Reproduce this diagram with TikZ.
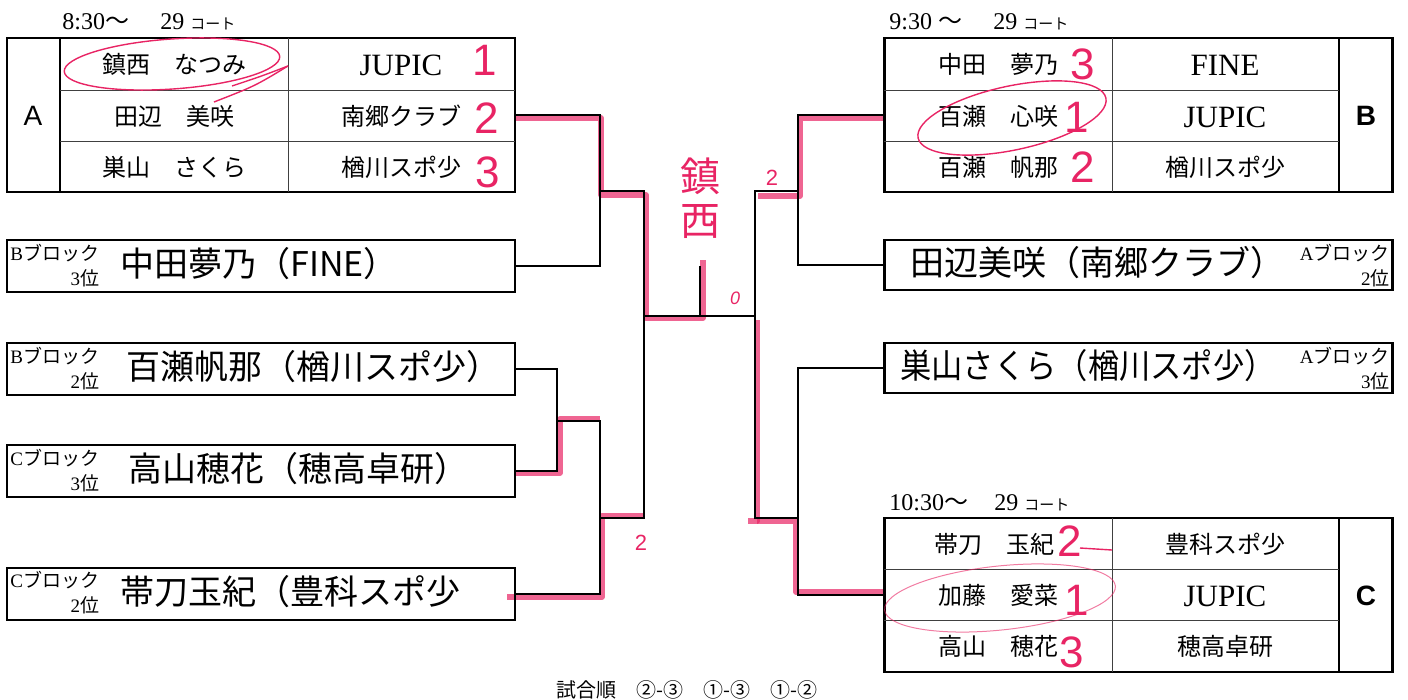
\documentclass[tikz,border=0pt]{standalone}
\usepackage{fontspec}
\setmainfont{Liberation Serif}
\newfontfamily\cjk{Noto Sans CJK JP}
\newfontfamily\gothic{Liberation Sans}
\usetikzlibrary{calc}
\definecolor{pen}{RGB}{232,36,100}
\def\court{{\cjk\fontsize{7.5}{7.5}\selectfont コート}}
\def\lat#1{{\rmfamily #1}}

\tikzset{
  frame/.style={draw, line width=1.2pt, inner sep=0pt},
  grp/.style={frame, minimum width=254pt, minimum height=77pt},
  entry/.style={frame, minimum width=254pt, minimum height=26pt},
  rule/.style={line width=0.45pt, black!75},
  bar/.style={line width=0.9pt},
  link/.style={line width=1pt},
  thinlink/.style={line width=0.6pt},
  pen/.style={line width=2.6pt, color=pen, opacity=0.7, line join=round},
  ring/.style={line width=0.7pt, color=pen},
  jname/.style={font=\cjk\fontsize{12}{13}\selectfont, inner sep=0pt},
  latin/.style={font=\fontsize{15.5}{16}\selectfont, inner sep=0pt},
  letter/.style={font=\gothic\fontsize{14}{14}\selectfont, inner sep=0pt},
  time/.style={font=\fontsize{12}{12}\selectfont, anchor=base west, inner sep=0pt},
  blk/.style={font=\cjk\fontsize{9.5}{12.5}\selectfont, align=right, inner sep=0pt},
  hand/.style={font=\cjk\fontsize{17}{17}\selectfont, anchor=west, inner sep=0pt},
  score/.style={font=\gothic\fontsize{22}{22}\selectfont, text=pen, inner sep=0pt},
  note/.style={font=\gothic\fontsize{11}{11}\selectfont, text=pen, inner sep=0pt}
}

\begin{document}
\begin{tikzpicture}[x=0.5pt, y=-0.5pt]
			\useasboundingbox (0,0) rectangle (1408,700);
			
			%%%%% RED PEN ON THE BRACKET %%%%%
			\draw[pen] (515,118) -- (601,118) -- (601,195) -- (646,195) -- (646,318) -- (703,318) -- (703,260);
			\draw[pen] (884,118) -- (800,118) -- (800,196) -- (758,196);
			\draw[pen] (757,320) -- (757,521) -- (748,521);
			\draw[pen] (757,521) -- (796,521) -- (796,592) -- (884,592);
			\draw[pen] (515,473) -- (560,473) -- (560,419) -- (600,419);
			\draw[pen] (507,597) -- (602,597) -- (602,516) -- (644,516);
			
			%%%%% BLOCKS %%%%%
			\node[grp] (grpA) at (261,115) {};
			\node[grp] (grpB) at (1138.5,115) {};
			\node[grp] (grpC) at (1138.5,595) {};
			
			\draw[bar] (60,38) -- (60,192);
			\draw[rule] (288,38) -- (288,192);
			\draw[rule] (60,90) -- (515,90);
			\draw[rule] (60,141) -- (515,141);
			
			\draw[bar] (1339,38) -- (1339,192);
			\draw[rule] (1112,38) -- (1112,192);
			\draw[rule] (884,90) -- (1339,90);
			\draw[rule] (884,141) -- (1339,141);
			
			\draw[bar] (1339,518) -- (1339,672);
			\draw[rule] (1112,518) -- (1112,672);
			\draw[rule] (884,569) -- (1339,569);
			\draw[rule] (884,620) -- (1339,620);
			
			\node[entry] (e1) at (261,266) {};
			\node[entry] (e2) at (261,369) {};
			\node[entry] (e3) at (261,471) {};
			\node[entry] (e4) at (261,594) {};
			\node[entry, minimum height=25pt] (f1) at (1138.5,265) {};
			\node[entry, minimum height=25pt] (f2) at (1138.5,368) {};
			
			%%%%% BRACKET %%%%%
			\coordinate (jA) at (600,191);
			\coordinate (jB) at (557,421);
			\coordinate (jC) at (600,518);
			\coordinate (jD) at (644,316);
			\coordinate (kA) at (798,191);
			\coordinate (kB) at (798,518);
			\coordinate (kC) at (755,316);
			\coordinate (champ) at (700,266);
			
			\draw[link] (grpA.east) -| (jA) |- (e1.east);
			\draw[thinlink] (e2.east) -| (jB);
			\draw[link] (jB) |- (e3.east);
			\draw[link] (jB) -| (jC) |- (e4.east);
			\draw[link] (jA) -| (jD) |- (jC);
			\draw[link] (grpB.west) -| (kA) |- (f1.west);
			\draw[thinlink] (f2.west) -| (kB);
			\draw[link] (kB) |- (grpC.west);
			\draw[link] (kA) -| (kC) |- (kB);
			\draw[link] (jD) -- (kC);
			\draw[link] (champ) -- (champ |- jD);
			
			%%%%% PRINTED TEXT %%%%%
			\node[time] (tA) at (62,30) {8:30{\cjk ～}\hspace{1.3em}29 \court};
			\node[time] (tB) at (889,30) {9:30 {\cjk ～}\hspace{1.3em}29 \court};
			\node[time] (tC) at (889,510) {10:30{\cjk ～}\hspace{1.1em}29 \court};
			
			\node[letter] (lA) at (33,116) {A};
			\node[letter, font=\gothic\bfseries\fontsize{14}{14}\selectfont] (lB) at (1366,116) {B};
			\node[letter, font=\gothic\bfseries\fontsize{14}{14}\selectfont] (lC) at (1366,596) {C};
			
			\node[jname] (a1) at (174,64) {鎮西　なつみ};
			\node[jname] (a2) at (174,116) {田辺　美咲};
			\node[jname] (a3) at (174,167) {巣山　さくら};
			\node[latin] (a1c) at (401,65) {JUPIC};
			\node[jname] (a2c) at (401,116) {南郷クラブ};
			\node[jname] (a3c) at (401,167) {楢川スポ少};
			
			\node[jname] (b1) at (998,64) {中田　夢乃};
			\node[jname] (b2) at (998,116) {百瀬　心咲};
			\node[jname] (b3) at (998,167) {百瀬　帆那};
			\node[latin] (b1c) at (1225,65) {FINE};
			\node[latin] (b2c) at (1225,117) {JUPIC};
			\node[jname] (b3c) at (1225,167) {楢川スポ少};
			
			\node[jname] (c1) at (994,544) {帯刀　玉紀};
			\node[jname] (c2) at (998,595) {加藤　愛菜};
			\node[jname] (c3) at (998,646) {高山　穂花};
			\node[jname] (c1c) at (1225,544) {豊科スポ少};
			\node[latin] (c2c) at (1225,596) {JUPIC};
			\node[jname] (c3c) at (1225,646) {穂高卓研};
			
			\node[blk, anchor=north west] (e1t) at (10,244) {\lat{B}ブロック\\\lat{3}位};
			\node[blk, anchor=north west] (e2t) at (10,347) {\lat{B}ブロック\\\lat{2}位};
			\node[blk, anchor=north west] (e3t) at (10,449) {\lat{C}ブロック\\\lat{3}位};
			\node[blk, anchor=north west] (e4t) at (10,571) {\lat{C}ブロック\\\lat{2}位};
			\node[blk, anchor=north east] (f1t) at (1390,244) {\lat{A}ブロック\\\lat{2}位};
			\node[blk, anchor=north east] (f2t) at (1390,347) {\lat{A}ブロック\\\lat{3}位};
			
			\node[font=\cjk\fontsize{10}{10}\selectfont, inner sep=0pt] (order) at (687,690) {試合順　②-③　①-③　①-②};
			
			%%%%% HANDWRITING %%%%%
			\node[hand] (h1) at (120,264) {中田夢乃（FINE）};
			\node[hand] (h2) at (126,367) {百瀬帆那（楢川スポ少）};
			\node[hand] (h3) at (128,469) {高山穂花（穂高卓研）};
			\node[hand] (h4) at (120,592) {帯刀玉紀（豊科スポ少};
			\node[hand] (h5) at (910,263) {田辺美咲（南郷クラブ）};
			\node[hand, xscale=0.92] (h6) at (900,366) {巣山さくら（楢川スポ少）};
			
			%%%%% RED MARKS %%%%%
			\node[hand, anchor=center, text=pen, align=center, font=\cjk\fontsize{20}{22}\selectfont] (win) at (700,198) {鎮\\西};
			
			\draw[ring, rotate around={4:(172,64)}] (172,64) ellipse (54pt and 12.5pt);
			\draw[ring] (232,86) .. controls (262,76) .. (288,66);
			\draw[ring] (288,66) .. controls (255,86) .. (214,102);
			\draw[ring, rotate around={12:(1012,118)}] (1012,118) ellipse (48pt and 16pt);
			\draw[ring, line width=0.5pt, opacity=0.6, rotate around={6:(1000,598)}] (1000,598) ellipse (58pt and 16pt);
			\draw[ring] (1080,548) -- (1112,550);
			
			\node[score] (sA1) at (485,60) {1};
			\node[score] (sA2) at (487,118) {2};
			\node[score] (sA3) at (488,172) {3};
			\node[score] (sB1) at (1083,64) {3};
			\node[score] (sB2) at (1077,117) {1};
			\node[score] (sB3) at (1083,167) {2};
			\node[score] (sC1) at (1070,541) {2};
			\node[score] (sC2) at (1077,600) {1};
			\node[score] (sC3) at (1072,652) {3};
			
			\node[note] (n1) at (772,178) {2};
			\node[note, font=\gothic\itshape\fontsize{9}{9}\selectfont] (n2) at (735,298) {0};
			\node[note] (n3) at (641,543) {2};
			
\end{tikzpicture}
\end{document}
